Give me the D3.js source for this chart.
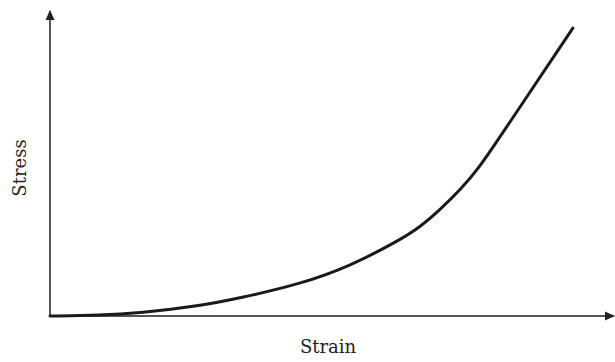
<!DOCTYPE html>
<html><head><meta charset="utf-8">
<script src="https://cdn.jsdelivr.net/npm/d3@7"></script>
<style>html,body{margin:0;padding:0;background:#fff;}svg{display:block;}</style>
</head><body>
<script>
const strain = [0, 8.9, 16.0, 26.7, 33.9, 44.6, 53.5, 62.4, 66.0, 69.5, 73.1, 76.6, 80.2, 83.8, 88.2, 93.2];
const stress = [0, 0.2, 1.0, 3.3, 5.9, 10.5, 16.4, 25.0, 29.3, 34.9, 41.4, 49.0, 58.9, 68.8, 80.9, 94.7];
const xLabel = "Strain";
const yLabel = "Stress";

const W = 615, H = 362;
const svg = d3.select("body").append("svg").attr("width", W).attr("height", H);
const x = d3.scaleLinear().domain([0, 100]).range([50, 611]);
const y = d3.scaleLinear().domain([0, 100]).range([316, 12]);

const defs = svg.append("defs");
defs.append("marker").attr("id", "arr").attr("viewBox", "0 0 10 10")
  .attr("refX", 9).attr("refY", 5).attr("markerWidth", 5).attr("markerHeight", 5)
  .attr("markerUnits", "strokeWidth").attr("orient", "auto")
  .append("path").attr("d", "M0,0.5 L10,5 L0,9.5 Z").attr("fill", "#222");

// axes
svg.append("line").attr("x1", x(0)).attr("y1", y(0)).attr("x2", x(0)).attr("y2", y(100) - 1)
  .attr("stroke", "#555").attr("stroke-width", 2).attr("marker-end", "url(#arr)");
svg.append("line").attr("x1", x(0)).attr("y1", y(0)).attr("x2", x(100) + 3).attr("y2", y(0))
  .attr("stroke", "#555").attr("stroke-width", 2).attr("marker-end", "url(#arr)");

const data = strain.map((d, i) => [d, stress[i]]);
svg.append("path").datum(data)
  .attr("d", d3.line().x(d => x(d[0])).y(d => y(d[1])).curve(d3.curveBasis))
  .attr("fill", "none").attr("stroke", "#1a1a1a").attr("stroke-width", 3).attr("stroke-linecap", "round");

svg.append("text").attr("x", 328).attr("y", 353).attr("text-anchor", "middle")
  .attr("font-family", "DejaVu Serif").attr("font-size", 18).attr("fill", "#222").text(xLabel);
svg.append("text").attr("transform", "translate(26,168) rotate(-90)").attr("text-anchor", "middle")
  .attr("font-family", "DejaVu Serif").attr("font-size", 18).attr("fill", "#222").text(yLabel);
</script>
</body></html>
